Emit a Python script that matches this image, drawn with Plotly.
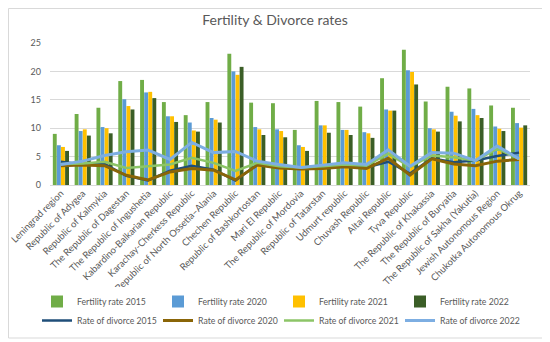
import plotly.graph_objects as go

categories = [
    "Leningrad region", "Republic of Adygea", "Republic of Kalmykia",
    "The Republic of Dagestan", "The Republic of Ingushetia",
    "Kabardino-Balkarian Republic", "Karachay-Cherkess Republic",
    "Republic of North Ossetia–Alania", "Chechen Republic",
    "Republic of Bashkortostan", "Mari El Republic", "The Republic of Mordovia",
    "Republic of Tatarstan", "Udmurt republic", "Chuvash Republic",
    "Altai Republic", "Tyva Republic", "The Republic of Khakassia",
    "The Republic of Buryatia", "The Republic of Sakha (Yakutia)",
    "Jewish Autonomous Region", "Chukotka Autonomous Okrug",
]

fert_2015 = [9.0, 12.5, 13.6, 18.3, 18.5, 14.6, 12.3, 14.6, 23.1, 14.5, 14.4, 9.7, 14.8, 14.6, 13.8, 18.8, 23.8, 14.7, 17.3, 17.0, 14.0, 13.6]
fert_2020 = [7.0, 9.5, 10.2, 15.1, 16.3, 12.1, 11.0, 11.8, 20.0, 10.2, 9.8, 7.0, 10.5, 9.7, 9.3, 13.3, 20.2, 10.0, 12.9, 13.4, 10.3, 10.9]
fert_2021 = [6.7, 9.8, 10.0, 13.9, 16.4, 12.1, 9.6, 11.5, 19.4, 9.8, 9.5, 6.7, 10.5, 9.7, 9.1, 13.1, 19.9, 9.8, 12.2, 12.3, 9.9, 10.1]
fert_2022 = [6.0, 8.7, 9.1, 13.3, 15.3, 11.1, 9.4, 11.0, 20.8, 8.8, 8.4, 6.0, 9.2, 8.8, 8.3, 13.1, 17.7, 9.4, 11.2, 11.8, 9.5, 10.5]

div_2015 = [4.1, 3.6, 3.7, 1.6, 0.8, 2.5, 3.4, 2.7, 0.8, 3.6, 3.2, 2.9, 3.1, 3.4, 3.1, 4.1, 2.0, 4.7, 4.0, 4.3, 5.1, 5.7]
div_2020 = [3.4, 3.5, 3.4, 1.7, 0.9, 2.3, 2.9, 2.6, 0.9, 3.5, 3.0, 2.8, 2.9, 3.2, 2.9, 4.7, 1.75, 4.6, 3.7, 3.4, 4.2, 4.5]
div_2021 = [3.7, 3.8, 4.1, 3.0, 3.3, 3.6, 4.8, 3.9, 2.5, 3.9, 3.3, 3.1, 3.3, 3.6, 3.4, 5.5, 3.2, 5.2, 4.9, 4.3, 6.4, 4.6]
div_2022 = [3.6, 4.2, 5.2, 5.85, 6.15, 4.5, 7.5, 5.7, 5.9, 4.2, 3.6, 3.1, 3.5, 3.9, 3.6, 6.2, 3.3, 5.7, 5.6, 4.3, 6.85, 4.6]

bar_series = [
    ("Fertility rate 2015", fert_2015, "#70AD47"),
    ("Fertility rate 2020", fert_2020, "#5B9BD5"),
    ("Fertility rate 2021", fert_2021, "#FFC000"),
    ("Fertility rate 2022", fert_2022, "#3B5E27"),
]
line_series = [
    ("Rate of divorce 2015", div_2015, "#1F4E79", 2.5),
    ("Rate of divorce 2020", div_2020, "#8A6508", 3),
    ("Rate of divorce 2021", div_2021, "#8CC567", 2.5),
    ("Rate of divorce 2022", div_2022, "#7DAEE2", 3),
]

# the page body has an 8px default margin, so the figure is sized to fit
OFF = 8
W, H = 550 - OFF, 342 - OFF
ML, MR, MT, MB = 50 - OFF, 20, 43 - OFF, 342 - 185
font_family = "Lato, 'Open Sans', sans-serif"
grey = "#595959"

fig = go.Figure()
for name, vals, col in bar_series:
    fig.add_trace(go.Bar(x=categories, y=vals, name=name, marker_color=col,
                         marker_line_width=0))
for name, vals, col, w in line_series:
    fig.add_trace(go.Scatter(x=categories, y=vals, name=name, mode="lines",
                             line=dict(color=col, width=w)))

pw = W - ML - MR
ph = H - MT - MB
plot_bottom = H - MB
fig.add_shape(type="rect", xref="paper", yref="paper",
              x0=(0.5 - ML) / pw, x1=(547 - OFF - ML) / pw,
              y0=(plot_bottom - (338 - OFF)) / ph, y1=(plot_bottom - 0.5) / ph,
              line=dict(color="#D9D9D9", width=1), layer="below")

fig.update_layout(
    width=W, height=H,
    margin=dict(l=ML, r=MR, t=MT, b=MB, autoexpand=False),
    paper_bgcolor="white", plot_bgcolor="white",
    font=dict(family=font_family, color=grey, size=9),
    title=dict(text="Fertility & Divorce rates", x=(275 - OFF) / W, xref="container",
               xanchor="center",
               y=1 - (20 - OFF) / H, yref="container", yanchor="middle",
               font=dict(size=14, color=grey, family=font_family)),
    barmode="group", bargap=0.25, bargroupgap=0.05,
    showlegend=True,
    legend=dict(orientation="h", x=0.5, xanchor="center", xref="container",
                y=(plot_bottom - (287 - OFF)) / ph, yref="paper", yanchor="top",
                font=dict(size=8.7, color=grey), entrywidth=76,
                itemwidth=30, tracegroupgap=0),
    xaxis=dict(tickangle=-45, tickfont=dict(size=9.5, color=grey),
               showgrid=False, showline=False, ticks="", automargin=False),
    yaxis=dict(range=[0, 25], dtick=5, tickfont=dict(size=9, color=grey),
               gridcolor="#D9D9D9", gridwidth=1, zeroline=True,
               zerolinecolor="#D9D9D9", zerolinewidth=1, ticks="",
               ticklabelstandoff=8, automargin=False),
)

fig.write_html("out.html")
